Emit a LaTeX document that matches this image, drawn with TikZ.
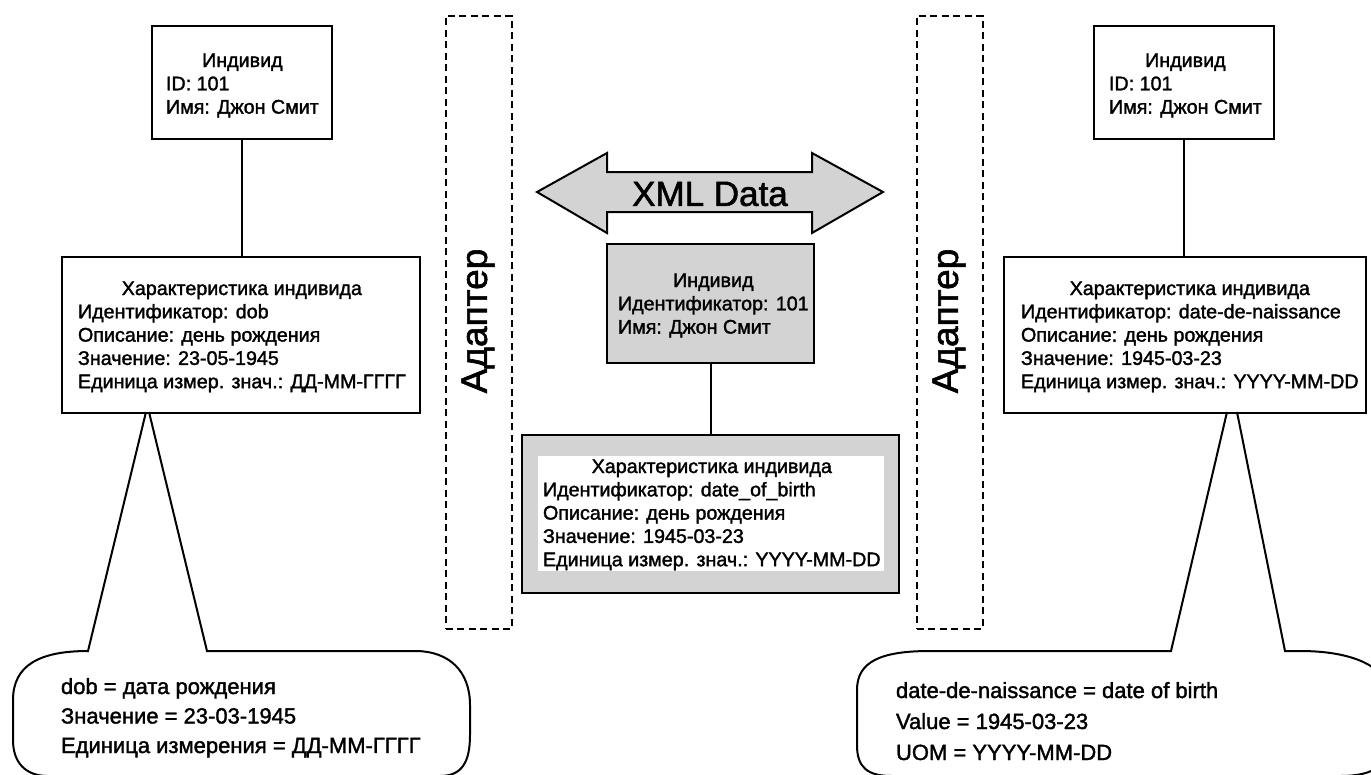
\documentclass[tikz,border=0pt]{standalone}
\usepackage{fontspec}
\setmainfont{Liberation Sans}[BoldFont=Liberation Sans,BoldFeatures={FakeBold=1.6}]
\definecolor{lg}{RGB}{211,211,211}
\newcommand\tb[2]{\begin{tabular}[t]{@{}l@{}}\multicolumn{1}{@{}c@{}}{#1}\\#2\end{tabular}}
\newcommand\tlft[1]{\begin{tabular}[t]{@{}l@{}}#1\end{tabular}}
\begin{document}
\bfseries
\begin{tikzpicture}[x=1pt,y=-1pt,line width=2pt,
  box/.style={draw,line width=2pt,inner sep=0pt,anchor=north west},
  txt/.style={font=\fontsize{19.7}{23.3}\selectfont\bfseries,inner sep=0pt,anchor=base west},
  ctxt/.style={font=\fontsize{22}{29.5}\selectfont\bfseries,inner sep=0pt,anchor=base west},
  adapt/.style={draw,line width=1.8pt,dash pattern=on 7pt off 4.5pt,inner sep=0pt,anchor=north west},
  adtxt/.style={font=\fontsize{37}{40}\selectfont\bfseries,rotate=90,inner sep=0pt},
]
\useasboundingbox (0,0) rectangle (1371,774);
\fill[white] (0,0) rectangle (1371,774);

% adapters
\node[adapt,minimum width=66,minimum height=613] (ad1) at (445,15) {};
\node[adapt,minimum width=66,minimum height=613] (ad2) at (916,15) {};
\node[adtxt] (ad1t) at (478,321) {Адаптер};
\node[adtxt] (ad2t) at (949,321) {Адаптер};

% left side
\node[box,minimum width=180,minimum height=113] (p1) at (151,25) {};
\node[txt] (p1t) at (165,67) {\tb{Индивид}{ID: 101\\Имя: Джон Смит}};
\node[box,minimum width=358,minimum height=156] (c1) at (61,256) {};
\node[txt] (c1t) at (77,295) {\tb{Характеристика индивида}{Идентификатор: dob\\Описание: день рождения\\Значение: 23-05-1945\\Единица измер. знач.: ДД-ММ-ГГГГ}};
\draw (p1.south) -- (p1.south |- c1.north);

% right side
\node[box,minimum width=180,minimum height=113] (p2) at (1093,25) {};
\node[txt] (p2t) at (1108,67) {\tb{Индивид}{ID: 101\\Имя: Джон Смит}};
\node[box,minimum width=362,minimum height=156] (c2) at (1003,256) {};
\node[txt] (c2t) at (1020,295) {\tb{Характеристика индивида}{Идентификатор: date-de-naissance\\Описание: день рождения\\Значение: 1945-03-23\\Единица измер. знач.: YYYY-MM-DD}};
\draw (p2.south) -- (p2.south |- c2.north);

% centre
\coordinate (xa) at (537,192);
\draw[fill=lg] (xa) -- (607,153) -- (607,172) -- (812,172) -- (812,153) -- (883,192)
  -- (812,233) -- (812,212) -- (607,212) -- (607,233) -- cycle;
\node[font=\fontsize{35}{40}\selectfont\bfseries,inner sep=0pt] (xml) at (710,194) {XML Data};
\node[box,fill=lg,minimum width=207,minimum height=119] (p3) at (606,243) {};
\node[txt] (p3t) at (617,287) {\tb{Индивид}{Идентификатор: 101\\Имя: Джон Смит}};
\node[box,fill=lg,minimum width=377,minimum height=158] (c3) at (521,434) {};
\node[fill=white,inner sep=0pt,anchor=north west,minimum width=346,minimum height=115] (c3w) at (537,455) {};
\node[txt] (c3t) at (542,473) {\tb{Характеристика индивида}{Идентификатор: date\_of\_birth\\Описание: день рождения\\Значение: 1945-03-23\\Единица измер. знач.: YYYY-MM-DD}};
\draw (p3.south) -- (c3.north);

% callouts
\coordinate (la1) at (146,412);
\coordinate (la2) at (149,412);
\draw[line join=miter] (la1) -- (88,651) .. controls (40,651) and (13,665) .. (13,700) -- (13,740)
  .. controls (13,762) and (25,776) .. (48,776) -- (440,776)
  .. controls (462,776) and (470,762) .. (470,735) -- (470,705)
  .. controls (470,672) and (450,651) .. (415,651) -- (207,651) -- (la2);
\node[ctxt] (lct) at (60,694) {\tlft{dob = дата рождения\\Значение = 23-03-1945\\Единица измерения = ДД-ММ-ГГГГ}};

\coordinate (ra1) at (1227,412);
\coordinate (ra2) at (1237,412);
\draw[line join=miter] (ra1) -- (1171,651) -- (930,651) .. controls (880,651) and (857,662) .. (857,690) -- (857,745)
  .. controls (857,768) and (868,776) .. (892,776) -- (1340,776)
  .. controls (1375,776) and (1390,765) .. (1392,735) -- (1392,700)
  .. controls (1390,665) and (1350,651) .. (1300,651) -- (1285,651) -- (ra2);
\node[ctxt,font=\fontsize{22}{31}\selectfont\bfseries] (rct) at (895,698) {\tlft{date-de-naissance = date of birth\\Value = 1945-03-23\\UOM = YYYY-MM-DD}};
\end{tikzpicture}
\end{document}
